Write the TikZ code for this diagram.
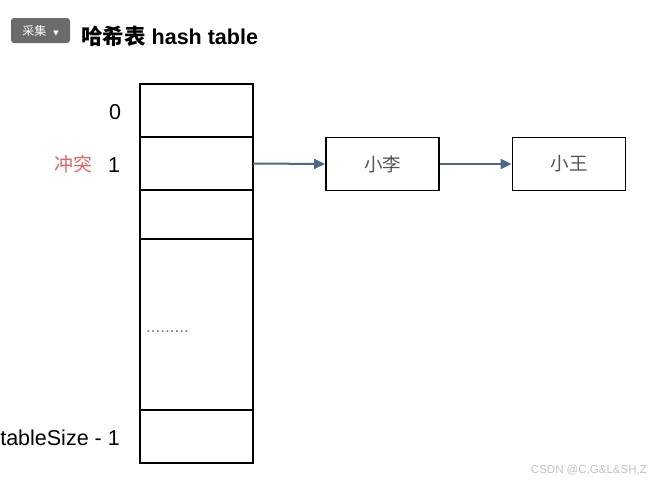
\documentclass[tikz,border=0pt]{standalone}
\usepackage{fontspec}
\setmainfont{Liberation Sans}
\newfontfamily\cjk{Noto Sans CJK SC}
\newfontfamily\dejavu{DejaVu Sans}
\usetikzlibrary{arrows.meta}
\definecolor{arrowblue}{HTML}{4A6A86}
\definecolor{redtext}{HTML}{E06666}
\definecolor{graytext}{HTML}{555555}
\definecolor{dotgray}{HTML}{777777}
\definecolor{badge}{HTML}{6B6B6B}
\definecolor{wm}{HTML}{C4C4C4}
\begin{document}
\begin{tikzpicture}[x=1pt,y=-1pt,
  cell/.style={draw=black,line width=1.8pt,inner sep=0pt,outer sep=0pt,anchor=north west,minimum width=113pt},
  listbox/.style={draw=black,line width=1.8pt,inner sep=0pt,minimum width=113pt,minimum height=53pt,font=\cjk\fontsize{18.5}{20}\selectfont,text=graytext},
  idx/.style={inner sep=0pt,font=\fontsize{21.5}{24}\selectfont},
  link/.style={draw=arrowblue,line width=2pt,-{Triangle[length=11pt,width=10pt]}}]
\useasboundingbox (0,0) rectangle (650,482);
\fill[white] (0,0) rectangle (650,482);
% header
\node[fill=badge,rounded corners=3pt,inner sep=0pt,minimum width=59pt,minimum height=25pt,text=white] (badge) at (40.5,30.5)
  {{\cjk\fontsize{12}{13}\selectfont 采集}\hspace{7pt}{\dejavu\fontsize{7}{8}\selectfont ▼}};
\node[anchor=west,inner sep=0pt,font=\bfseries\fontsize{21.5}{24}\selectfont] (title) at (81,36)
  {{\cjk\bfseries 哈希表} hash table};
% table
\node[cell,minimum height=53pt] (c0) at (140,84) {};
\node[cell,minimum height=53pt] (c1) at (140,137) {};
\node[cell,minimum height=49pt] (c2) at (140,190) {};
\node[cell,minimum height=171pt] (cd) at (140,239) {};
\node[cell,minimum height=53pt] (cl) at (140,410) {};
\node[anchor=base west,inner sep=0pt,text=dotgray,font=\fontsize{17}{18}\selectfont] (dots) at (146,332) {.........};
% labels
\node[idx] (l0) at (115,112) {0};
\node[idx] (l1) at (114,165) {1};
\node[inner sep=0pt,font=\cjk\fontsize{19}{20}\selectfont,text=redtext] (conf) at (73,164) {冲突};
\node[idx,anchor=east] (ll) at (120,438) {tableSize - 1};
% list
\node[listbox] (li) at (382.5,164) {小李};
\node[listbox] (wang) at (569,164) {小王};
\draw[link] (c1.east) -- (li.west);
\draw[link] (li.east) -- (wang.west);
% watermark
\node[anchor=east,inner sep=0pt,text=wm,font=\fontsize{11.5}{13}\selectfont] (wmk) at (647,470) {CSDN @C,G\&L\&SH,Z};
\end{tikzpicture}
\end{document}
